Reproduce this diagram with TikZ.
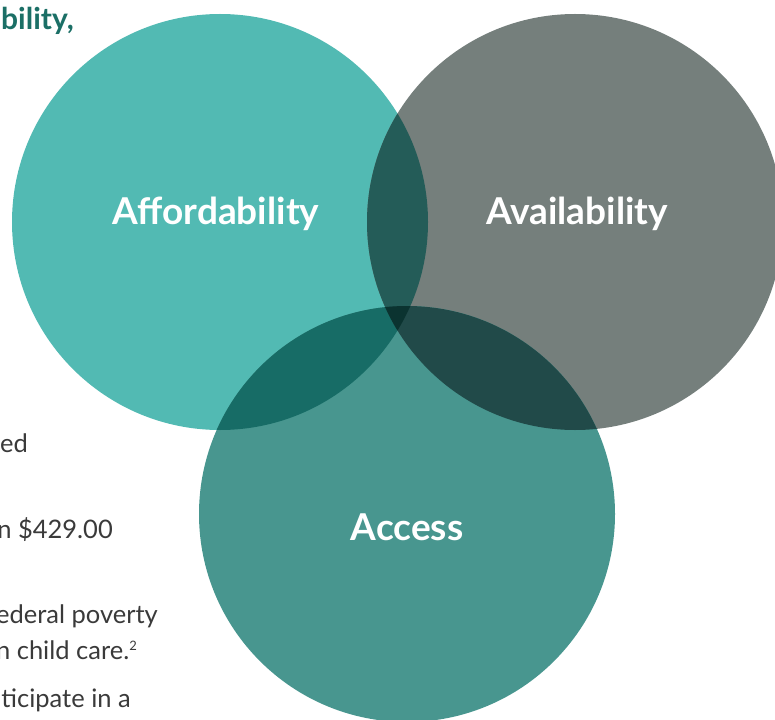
\documentclass[tikz,border=0pt]{standalone}
\usepackage{fontspec}
\setmainfont{Lato}
\definecolor{affcol}{HTML}{52BAB3}
\definecolor{availcol}{HTML}{757F7C}
\definecolor{accesscol}{HTML}{48968F}
\definecolor{affavail}{HTML}{245C58}
\definecolor{affaccess}{HTML}{176C66}
\definecolor{availaccess}{HTML}{214A49}
\definecolor{allthree}{HTML}{0B3330}
\definecolor{headteal}{HTML}{1B6F66}
\definecolor{bodygray}{HTML}{3A3A3A}
\begin{document}
\begin{tikzpicture}[x=1pt, y=-1pt,
    ring/.style = {circle, inner sep = 0pt, minimum size = 416pt},
    ringlabel/.style = {anchor = base, text = white, font = \fontsize{37}{42}\selectfont\bfseries},
    bodytext/.style = {anchor = base east, text = bodygray, inner sep = 0pt, font = \fontsize{25.5}{30}\selectfont}]
    \useasboundingbox (0,0) rectangle (775,719);
    \clip (0,0) rectangle (775,719);
    %Circles
    \node [ring, fill = affcol] (aff) at (220,222) {};
    \node [ring, fill = availcol] (avail) at (575,222) {};
    \node [ring, fill = accesscol] (access) at (407,514) {};
    %Overlaps
    \begin{scope}
        \clip (aff.center) circle (208pt);
        \fill [affavail] (avail.center) circle (208pt);
        \fill [affaccess] (access.center) circle (208pt);
    \end{scope}
    \begin{scope}
        \clip (avail.center) circle (208pt);
        \fill [availaccess] (access.center) circle (208pt);
    \end{scope}
    \begin{scope}
        \clip (aff.center) circle (208pt);
        \clip (avail.center) circle (208pt);
        \fill [allthree] (access.center) circle (208pt);
    \end{scope}
    %Labels
    \node [ringlabel] (afftext) at (216,224) {Affordability};
    \node [ringlabel] (availtext) at (577,224) {Availability};
    \node [ringlabel] (accesstext) at (407,540) {Access};
    %Page text
    \node [anchor = base east, inner sep = 0pt, text = headteal, font = \fontsize{30}{34}\selectfont\bfseries]
    (head) at (74,30) {bility,};
    \node [bodytext] (t1) at (28,452) {ed};
    \node [bodytext] (t2) at (113,538) {n \$429.00};
    \node [bodytext] (t3) at (158,623) {ederal poverty};
    \node [bodytext] (t4) at (137,659) {n child care.\raisebox{9pt}{\fontsize{13}{15}\selectfont 2}};
    \node [bodytext] (t5) at (131,707) {ticipate in a};
\end{tikzpicture}
\end{document}
